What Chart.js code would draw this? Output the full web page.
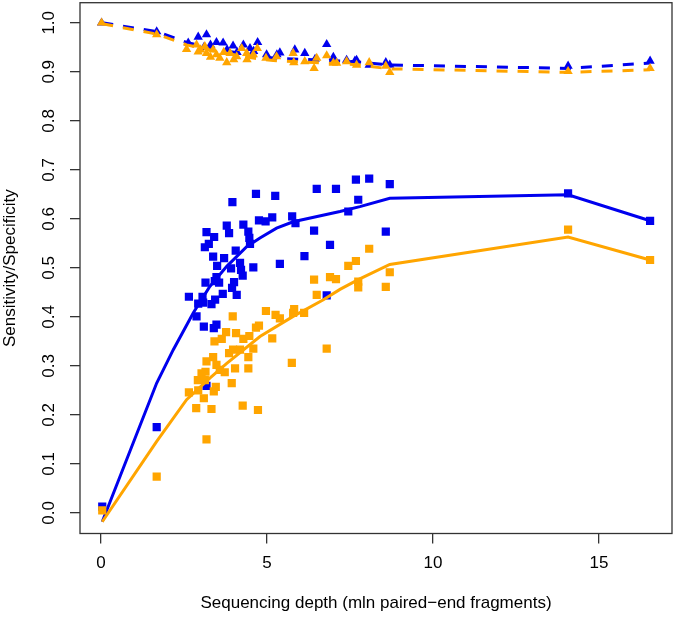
<!DOCTYPE html>
<html>
<head>
<meta charset="utf-8">
<script src="https://cdn.jsdelivr.net/npm/chart.js@4.4.0/dist/chart.umd.min.js"></script>
<style>
  html, body { margin: 0; padding: 0; background: #fff; }
</style>
</head>
<body>
<canvas id="chart" width="675" height="617"></canvas>
<script>
// Sensitivity points (squares)
const blueSensX = [0.04, 1.68, 2.65, 2.88, 2.93, 3.06, 3.08, 3.10, 3.13, 3.15, 3.18, 3.18, 3.25, 3.33, 3.38, 3.40, 3.41, 3.43, 3.44, 3.48, 3.48, 3.50, 3.56, 3.67, 3.71, 3.79, 3.86, 3.92, 3.95, 3.96, 4.01, 4.06, 4.09, 4.19, 4.22, 4.27, 4.29, 4.44, 4.47, 4.49, 4.59, 4.67, 4.76, 4.96, 5.16, 5.25, 5.39, 5.76, 5.86, 6.13, 6.42, 6.50, 6.80, 6.90, 7.08, 7.45, 7.68, 7.75, 8.08, 8.58, 8.70, 14.07, 16.54];
const blueSensY = [0.013, 0.175, 0.441, 0.401, 0.427, 0.441, 0.429, 0.380, 0.542, 0.470, 0.573, 0.259, 0.549, 0.426, 0.523, 0.377, 0.563, 0.473, 0.435, 0.481, 0.384, 0.504, 0.470, 0.447, 0.520, 0.586, 0.571, 0.499, 0.459, 0.634, 0.471, 0.535, 0.445, 0.510, 0.496, 0.484, 0.588, 0.574, 0.561, 0.549, 0.501, 0.651, 0.597, 0.595, 0.603, 0.647, 0.508, 0.605, 0.591, 0.524, 0.576, 0.661, 0.444, 0.547, 0.661, 0.615, 0.680, 0.639, 0.682, 0.574, 0.671, 0.652, 0.596];
const orangeSensX = [0.04, 1.68, 2.65, 2.87, 2.92, 2.93, 3.03, 3.10, 3.13, 3.15, 3.18, 3.18, 3.33, 3.38, 3.40, 3.42, 3.46, 3.48, 3.58, 3.64, 3.73, 3.77, 3.86, 3.94, 3.97, 3.98, 4.04, 4.07, 4.19, 4.27, 4.29, 4.44, 4.44, 4.47, 4.59, 4.67, 4.73, 4.76, 4.97, 5.16, 5.26, 5.39, 5.75, 5.79, 5.82, 6.12, 6.42, 6.50, 6.80, 6.90, 7.08, 7.45, 7.68, 7.75, 7.75, 8.08, 8.58, 8.70, 14.07, 16.54];
const orangeSensY = [0.005, 0.074, 0.246, 0.214, 0.271, 0.250, 0.285, 0.234, 0.271, 0.288, 0.150, 0.309, 0.212, 0.318, 0.248, 0.350, 0.257, 0.302, 0.292, 0.355, 0.287, 0.369, 0.326, 0.265, 0.401, 0.333, 0.295, 0.367, 0.333, 0.219, 0.355, 0.295, 0.318, 0.361, 0.335, 0.378, 0.210, 0.382, 0.412, 0.356, 0.404, 0.397, 0.306, 0.408, 0.416, 0.408, 0.476, 0.445, 0.335, 0.481, 0.477, 0.504, 0.514, 0.472, 0.460, 0.539, 0.461, 0.491, 0.578, 0.516];

// Specificity points (triangles)
const blueSpecX = [0.02, 1.68, 2.63, 2.93, 3.10, 3.18, 3.30, 3.48, 3.68, 3.80, 3.98, 4.10, 4.29, 4.49, 4.60, 4.72, 4.99, 5.30, 5.39, 5.84, 6.14, 6.45, 6.80, 7.00, 7.40, 7.65, 7.70, 8.08, 8.58, 8.70, 14.07, 16.54];
const blueSpecY = [1.000, 0.982, 0.959, 0.971, 0.950, 0.976, 0.955, 0.960, 0.959, 0.945, 0.953, 0.940, 0.955, 0.948, 0.942, 0.960, 0.935, 0.935, 0.939, 0.945, 0.938, 0.926, 0.956, 0.930, 0.924, 0.922, 0.924, 0.914, 0.919, 0.914, 0.912, 0.922];
const orangeSpecX = [0.02, 1.68, 2.58, 2.88, 2.93, 3.00, 3.13, 3.18, 3.30, 3.38, 3.48, 3.58, 3.70, 3.79, 3.89, 4.00, 4.09, 4.24, 4.39, 4.40, 4.59, 4.71, 4.97, 5.29, 5.79, 5.81, 6.14, 6.42, 6.50, 6.80, 7.00, 7.10, 7.40, 7.70, 8.08, 8.58, 8.70, 14.07, 16.54];
const orangeSpecY = [1.000, 0.976, 0.946, 0.955, 0.941, 0.945, 0.952, 0.938, 0.930, 0.945, 0.935, 0.928, 0.940, 0.919, 0.938, 0.925, 0.931, 0.948, 0.938, 0.925, 0.935, 0.948, 0.928, 0.931, 0.938, 0.919, 0.921, 0.907, 0.928, 0.933, 0.918, 0.918, 0.921, 0.914, 0.919, 0.912, 0.899, 0.901, 0.907];

// Smoothed curves
const blueSensLineX = [0.04, 1.68, 2.18, 2.78, 3.28, 3.79, 4.39, 4.79, 5.29, 5.79, 7.20, 7.80, 8.70, 14.07, 16.54];
const blueSensLineY = [-0.018, 0.265, 0.333, 0.408, 0.462, 0.503, 0.543, 0.561, 0.581, 0.594, 0.615, 0.625, 0.642, 0.649, 0.596];
const orangeSensLineX = [0.04, 1.68, 2.58, 3.28, 3.79, 4.79, 5.79, 6.70, 7.20, 7.75, 8.70, 14.07, 16.54];
const orangeSensLineY = [-0.018, 0.146, 0.231, 0.275, 0.305, 0.360, 0.401, 0.435, 0.456, 0.476, 0.507, 0.563, 0.516];
const specLineX = [0.04, 1.68, 2.58, 3.58, 4.59, 5.19, 7.60, 8.70, 14.07, 16.54];
const blueSpecLineY = [1.000, 0.982, 0.960, 0.945, 0.933, 0.928, 0.921, 0.914, 0.907, 0.918];
const orangeSpecLineY = [0.998, 0.977, 0.955, 0.940, 0.928, 0.923, 0.915, 0.906, 0.899, 0.904];

// Axes
const xTicks = [0, 5, 10, 15];
const yTicks = [0.0, 0.1, 0.2, 0.3, 0.4, 0.5, 0.6, 0.7, 0.8, 0.9, 1.0];
const xTitle = 'Sequencing depth (mln paired\u2212end fragments)';
const yTitle = 'Sensitivity/Specificity';

const BLUE = '#0000ee';
const ORANGE = '#ffa500';
const AXIS = '#333333';
const FONT = '"Liberation Sans", Arial, Helvetica, sans-serif';
const FONT_SIZE = 17;

const pts = (xs, ys) => xs.map((x, i) => ({ x: x, y: ys[i] }));

function markers(data, color, style, radius, order) {
    return {
        data: data,
        showLine: false,
        pointStyle: style,
        pointRadius: radius,
        pointBackgroundColor: color,
        pointBorderColor: color,
        pointBorderWidth: 0,
        order: order
    };
}

function curve(data, color, dash, order) {
    return {
        data: data,
        showLine: true,
        tension: 0,
        borderColor: color,
        borderWidth: 3,
        borderDash: dash,
        borderCapStyle: 'butt',
        pointRadius: 0,
        order: order
    };
}

// box around the plot + rotated y tick labels (R style)
const frameAndLabels = {
    id: 'frameAndLabels',
    beforeDatasetsDraw(chart) {
        const { ctx, chartArea: a } = chart;
        ctx.save();
        ctx.strokeStyle = AXIS;
        ctx.lineWidth = 1.3;
        ctx.strokeRect(a.left, a.top, a.right - a.left, a.bottom - a.top);
        ctx.restore();
    },
    afterDraw(chart) {
        const { ctx, chartArea: a, scales: { y } } = chart;
        ctx.save();
        ctx.fillStyle = '#000';
        ctx.font = FONT_SIZE + 'px ' + FONT;
        ctx.textAlign = 'center';
        ctx.textBaseline = 'middle';
        yTicks.forEach(v => {
            ctx.save();
            ctx.translate(a.left - 31, y.getPixelForValue(v));
            ctx.rotate(-Math.PI / 2);
            ctx.fillText(v.toFixed(1), 0, 0);
            ctx.restore();
        });
        ctx.restore();
    }
};

new Chart(document.getElementById('chart'), {
    type: 'scatter',
    data: {
        datasets: [
            markers(pts(blueSensX, blueSensY), BLUE, 'rect', 5.8, 8),
            markers(pts(blueSpecX, blueSpecY), BLUE, 'triangle', 5.4, 7),
            curve(pts(blueSensLineX, blueSensLineY), BLUE, [], 6),
            curve(pts(specLineX, blueSpecLineY), BLUE, [11, 10], 5),
            markers(pts(orangeSensX, orangeSensY), ORANGE, 'rect', 5.8, 4),
            markers(pts(orangeSpecX, orangeSpecY), ORANGE, 'triangle', 5.4, 3),
            curve(pts(orangeSensLineX, orangeSensLineY), ORANGE, [], 2),
            curve(pts(specLineX, orangeSpecLineY), ORANGE, [11, 10], 1)
        ]
    },
    options: {
        responsive: false,
        animation: false,
        events: [],
        layout: { autoPadding: false, padding: { top: 2.7, right: 3, left: 0, bottom: 0 } },
        plugins: { legend: { display: false }, tooltip: { enabled: false } },
        scales: {
            x: {
                type: 'linear',
                bounds: 'data',
                min: -0.63,
                max: 17.2,
                afterBuildTicks: scale => { scale.ticks = xTicks.map(v => ({ value: v })); },
                afterFit: scale => { scale.height = 83.5; },
                border: { display: false },
                grid: { drawOnChartArea: false, drawTicks: true, tickLength: 10, color: AXIS, lineWidth: 1.3 },
                ticks: {
                    color: '#000',
                    padding: 10,
                    maxRotation: 0,
                    autoSkip: false,
                    font: { family: FONT, size: FONT_SIZE },
                    callback: v => String(v)
                },
                title: {
                    display: true,
                    text: xTitle,
                    color: '#000',
                    font: { family: FONT, size: FONT_SIZE, lineHeight: 1.2 },
                    padding: { top: 0, bottom: 3 }
                }
            },
            y: {
                type: 'linear',
                bounds: 'data',
                min: -0.042,
                max: 1.041,
                afterBuildTicks: scale => { scale.ticks = yTicks.map(v => ({ value: v })); },
                afterFit: scale => { scale.width = 80; },
                border: { display: false },
                grid: { drawOnChartArea: false, drawTicks: true, tickLength: 10, color: AXIS, lineWidth: 1.3 },
                ticks: { display: false },
                title: {
                    display: true,
                    text: yTitle,
                    color: '#000',
                    font: { family: FONT, size: FONT_SIZE, lineHeight: 1.2 },
                    padding: { top: 0, bottom: 0 }
                }
            }
        }
    },
    plugins: [frameAndLabels]
});
</script>
</body>
</html>
